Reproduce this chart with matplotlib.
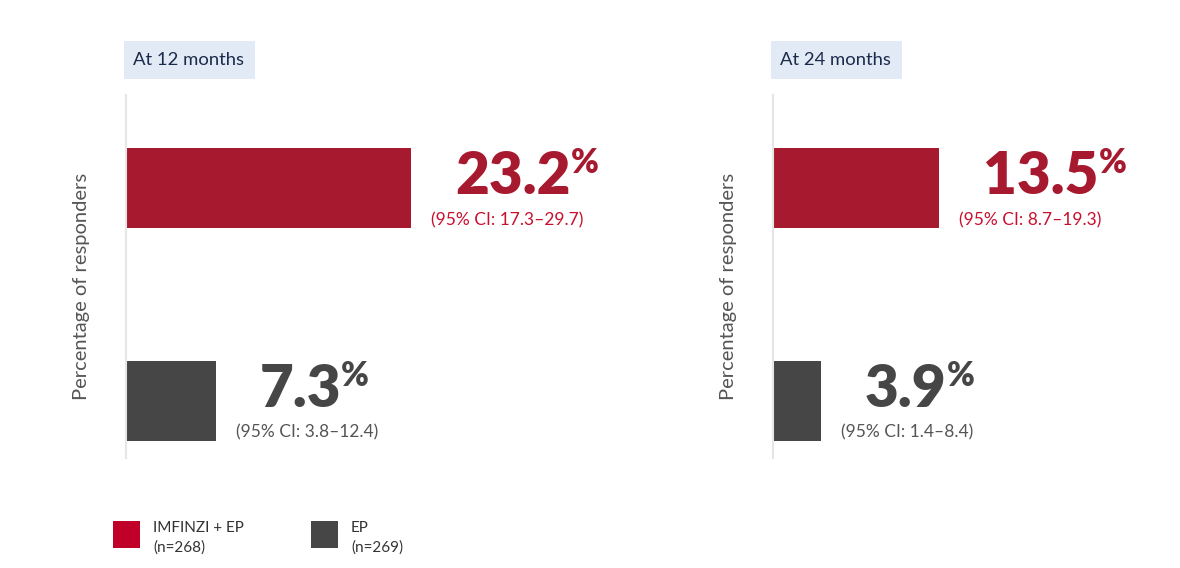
import matplotlib
matplotlib.use("Agg")
from matplotlib import pyplot as plt
from matplotlib.patches import Rectangle

plt.rcParams['font.family'] = ['Lato', 'DejaVu Sans']

# data
panels = ["At 12 months", "At 24 months"]
imfinzi_rates = [23.2, 13.5]
ep_rates = [7.3, 3.9]
imfinzi_ci = ["17.3–29.7", "8.7–19.3"]
ep_ci = ["3.8–12.4", "1.4–8.4"]
legend_labels = ["IMFINZI + EP\n(n=268)", "EP\n(n=269)"]

RED = "#A6192E"
RED_CI = "#C8102E"
GRAY = "#464646"
LEGEND_RED = "#C00028"
W, H = 1180, 568

fig = plt.figure(figsize=(W / 100, H / 100), dpi=100)

def fx(px):
    return px / W

def fy(py):
    return 1 - py / H

panel_left = [126, 773]
for i, name in enumerate(panels):
    ax = fig.add_axes([fx(panel_left[i]), fy(458), fx(369), 363 / H])
    vals = [imfinzi_rates[i], ep_rates[i]]
    cis = [imfinzi_ci[i], ep_ci[i]]
    ax.barh([0, 1], vals, height=0.376, color=[RED, GRAY], align="center")
    ax.set_xlim(0, 30)
    ax.set_ylim(1.27, -0.438)
    for s in ["top", "right", "bottom"]:
        ax.spines[s].set_visible(False)
    ax.spines["left"].set_color("#E6E6E6")
    ax.spines["left"].set_linewidth(1.5)
    ax.set_xticks([])
    ax.set_yticks([])
    ax.set_ylabel("Percentage of responders", fontsize=14.5, color="#555555")
    ax.yaxis.set_label_coords(-0.098, 0.474)

    for j, (v, ci) in enumerate(zip(vals, cis)):
        col = RED if j == 0 else GRAY
        num = ax.annotate(f"{v:.1f}", xy=(v, j), xytext=(44, -6), textcoords="offset pixels",
                          ha="left", va="baseline", fontsize=42, fontweight="heavy", color=col)
        ax.annotate("%", xy=(1, 1), xycoords=num, xytext=(0, 3), textcoords="offset pixels",
                    ha="left", va="top", fontsize=24, fontweight="heavy", color=col)
        ax.annotate(f"(95% CI: {ci})", xy=(v, j), xytext=(20, -32), textcoords="offset pixels",
                    ha="left", va="center", fontsize=12.5,
                    color=RED_CI if j == 0 else "#555555")

    # panel title box
    bx = panel_left[i] - 2
    fig.patches.append(Rectangle((fx(bx), fy(79)), fx(131), 38 / H, transform=fig.transFigure,
                                 facecolor="#E1EAF5", edgecolor="none"))
    fig.text(fx(bx + 9), fy(60), name, fontsize=13.3, color="#1B2A4A", ha="left", va="center")

# legend
leg_x = [113, 311]
leg_cols = [LEGEND_RED, GRAY]
for k, lab in enumerate(legend_labels):
    fig.patches.append(Rectangle((fx(leg_x[k]), fy(548)), fx(27), 27 / H, transform=fig.transFigure,
                                 facecolor=leg_cols[k], edgecolor="none"))
    fig.text(fx(leg_x[k] + 40), fy(538), lab, fontsize=11, color="#333333",
             ha="left", va="center", linespacing=1.45)

fig.savefig("out.png", dpi=100)
